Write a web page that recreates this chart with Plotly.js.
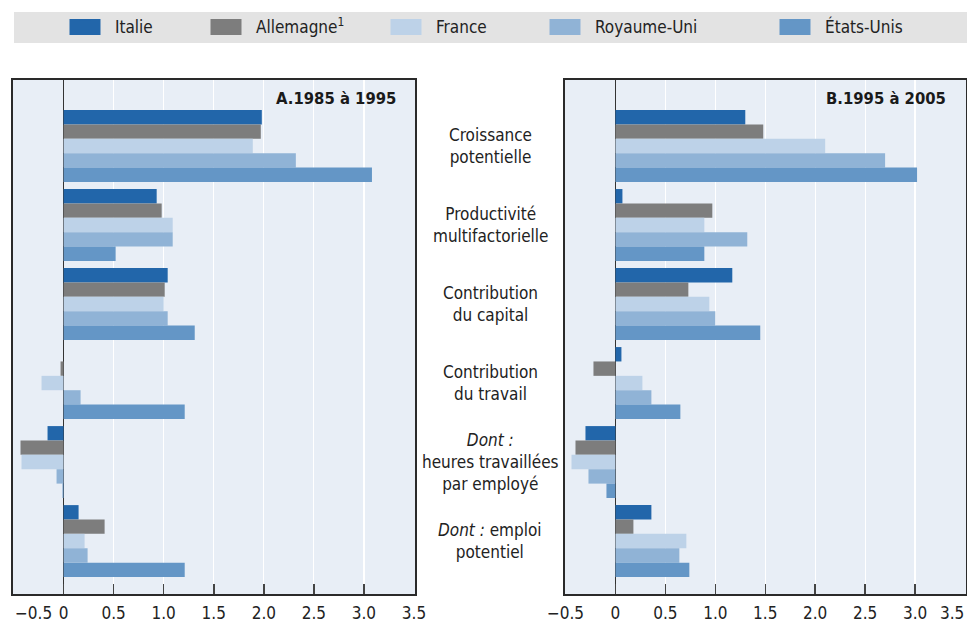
<!DOCTYPE html>
<html><head><meta charset="utf-8">
<script src="https://cdn.plot.ly/plotly-3.0.1.min.js"></script>
<style>body{margin:0;padding:0;background:#fff}</style>
</head><body>
<div id="chart" style="width:967px;height:625px"></div>
<script>
// ---- data ----
const categories = [
  'Croissance<br>potentielle',
  'Productivité<br>multifactorielle',
  'Contribution<br>du capital',
  'Contribution<br>du travail',
  '<i>Dont :</i><br>heures travaillées<br>par employé',
  '<i>Dont :</i> emploi<br>potentiel'
];
const countries = ['Italie', 'Allemagne<sup>1</sup>', 'France', 'Royaume-Uni', 'États-Unis'];
const colors = ['#2266aa', '#7d7d7d', '#bdd2e8', '#90b3d6', '#6496c6'];
const panelTitles = ['A.1985 à 1995', 'B.1995 à 2005'];
const tickVals = [-0.5, 0, 0.5, 1, 1.5, 2, 2.5, 3, 3.5];
const tickText = ['−0.5', '0', '0.5', '1.0', '1.5', '2.0', '2.5', '3.0', '3.5'];

// Panel A: 1985 à 1995
const italieA    = [1.98, 0.93, 1.04, 0.00, -0.16, 0.15];
const allemagneA = [1.97, 0.98, 1.01, -0.03, -0.43, 0.41];
const franceA    = [1.89, 1.09, 1.00, -0.22, -0.42, 0.21];
const ruA        = [2.32, 1.09, 1.04, 0.17, -0.07, 0.24];
const euA        = [3.08, 0.52, 1.31, 1.21, -0.01, 1.21];
// Panel B: 1995 à 2005
const italieB    = [1.30, 0.07, 1.17, 0.06, -0.30, 0.36];
const allemagneB = [1.48, 0.97, 0.73, -0.22, -0.40, 0.18];
const franceB    = [2.10, 0.89, 0.94, 0.27, -0.44, 0.71];
const ruB        = [2.70, 1.32, 1.00, 0.36, -0.27, 0.64];
const euB        = [3.02, 0.89, 1.45, 0.65, -0.09, 0.74];

const seriesA = [italieA, allemagneA, franceA, ruA, euA];
const seriesB = [italieB, allemagneB, franceB, ruB, euB];

// ---- build ----
const FONT = "'Liberation Sans Narrow', 'DejaVu Sans Condensed', 'Arial Narrow', sans-serif";
const last = tickText.length - 1;
// edge labels that would fall off the page are drawn as edge-anchored annotations instead
const tickTextA = tickText.map((t, i) => i === 0 ? '' : t);
const tickTextB = tickText.map((t, i) => i === last ? '' : t);

const legendNames = ['legend', 'legend2', 'legend3', 'legend4', 'legend5'];
const traces = [];
seriesA.forEach((vals, i) => {
  traces.push({
    type: 'bar', orientation: 'h', x: vals, y: categories, name: countries[i],
    xaxis: 'x', yaxis: 'y', legend: legendNames[i],
    marker: {color: colors[i], line: {width: 0}},
    hoverinfo: 'x+name'
  });
});
seriesB.forEach((vals, i) => {
  traces.push({
    type: 'bar', orientation: 'h', x: vals, y: categories, name: countries[i],
    xaxis: 'x2', yaxis: 'y2', showlegend: false,
    marker: {color: colors[i], line: {width: 0}},
    hoverinfo: 'x+name'
  });
});

const W = 967, H = 625;
const mL = 13, mR = 1, mT = 80, mB = 31;
const pw = W - mL - mR, ph = H - mT - mB;
const px = v => (v - mL) / pw;
const py = v => (H - mB - v) / ph;

const xr = [-0.505, 3.51];
const yr = [5.67, -0.835];
const tickFont = {family: FONT, size: 17, color: '#222'};

function xAxis(domain, anchor, ttext) {
  return {
    domain: domain, anchor: anchor, range: xr, fixedrange: true,
    tickvals: tickVals, ticktext: ttext, ticklabeloverflow: 'allow', ticklabelstandoff: 3,
    ticks: 'inside', ticklen: 10, tickwidth: 1.5, tickcolor: '#444',
    showgrid: true, gridcolor: '#ffffff', gridwidth: 1.2,
    zeroline: true, zerolinecolor: '#333', zerolinewidth: 1,
    showline: true, mirror: true, linecolor: '#2a2a2a', linewidth: 2,
    tickfont: tickFont,
    layer: 'above traces'
  };
}
function yAxis(anchor) {
  return {
    anchor: anchor, type: 'category', range: yr, fixedrange: true,
    showticklabels: false, ticks: '', showgrid: false, zeroline: false,
    showline: true, mirror: true, linecolor: '#2a2a2a', linewidth: 2
  };
}

const legendCenters = [85, 226, 406, 565, 795];
const shapes = [{
  type: 'rect', xref: 'paper', yref: 'paper',
  x0: px(14), x1: px(968), y0: py(43), y1: py(12),
  fillcolor: '#e3e3e3', line: {width: 0}, layer: 'below'
}];
// enlarged legend swatches behind the native legend symbols
legendCenters.forEach((c, i) => {
  shapes.push({
    type: 'rect', xref: 'paper', yref: 'paper',
    x0: px(c - 15.5), x1: px(c + 15.5), y0: py(35), y1: py(19),
    fillcolor: colors[i], line: {width: 0}, layer: 'above'
  });
});

const layout = {
  width: W, height: H,
  margin: {l: mL, r: mR, t: mT, b: mB, pad: 0},
  paper_bgcolor: '#ffffff', plot_bgcolor: '#e8eef6',
  barmode: 'group', bargap: 0.09, bargroupgap: 0,
  font: {family: FONT, size: 17, color: '#222'},
  xaxis: xAxis([0, px(415)], 'y', tickTextA),
  yaxis: yAxis('x'),
  xaxis2: xAxis([px(565), 1], 'y2', tickTextB),
  yaxis2: yAxis('x2'),
  shapes: shapes,
  annotations: [
    {text: '<b>' + panelTitles[0] + '</b>', xref: 'x domain', yref: 'y domain', x: (398 - 13) / (415 - 13), y: py(98),
     xanchor: 'right', yanchor: 'middle', showarrow: false, font: {family: FONT, size: 16.5, color: '#1a1a1a'}},
    {text: '<b>' + panelTitles[1] + '</b>', xref: 'x2 domain', yref: 'y2 domain', x: (948 - 565) / (966 - 565), y: py(98),
     xanchor: 'right', yanchor: 'middle', showarrow: false, font: {family: FONT, size: 16.5, color: '#1a1a1a'}},
    {text: tickText[0], xref: 'x', yref: 'paper', x: tickVals[0], y: py(613),
     xanchor: 'left', yanchor: 'middle', showarrow: false, font: tickFont, borderpad: 0},
    {text: tickText[last], xref: 'x2', yref: 'paper', x: tickVals[last], y: py(613),
     xanchor: 'right', yanchor: 'middle', showarrow: false, font: tickFont, borderpad: 0}
  ].concat(categories.map(c => ({
    text: c, xref: 'paper', yref: 'y', x: px(490), y: c,
    xanchor: 'center', yanchor: 'middle', align: 'center', showarrow: false,
    font: {family: FONT, size: 17, color: '#222'}
  }))),
  showlegend: true
};
legendNames.forEach((ln, i) => {
  layout[ln] = {
    orientation: 'h', x: px(legendCenters[i] - 30), y: py(27), xanchor: 'left', yanchor: 'middle',
    bgcolor: 'rgba(0,0,0,0)', borderwidth: 0, itemwidth: 50,
    font: {family: FONT, size: 17, color: '#222'}
  };
});

Plotly.newPlot('chart', traces, layout, {displayModeBar: false, staticPlot: true});
</script>
</body></html>
